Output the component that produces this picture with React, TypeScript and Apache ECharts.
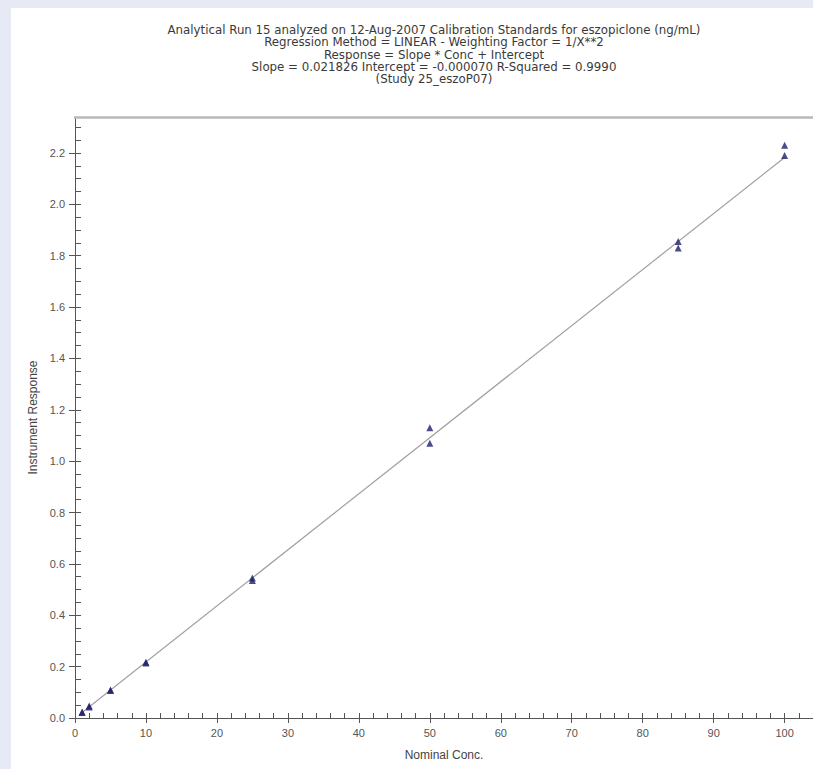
import React, { useEffect, useRef } from "react";
import * as echarts from "echarts";

// ---- data ----
const titleLines = [
  "Analytical Run 15 analyzed on 12-Aug-2007 Calibration Standards for eszopiclone (ng/mL)",
  "Regression Method = LINEAR - Weighting Factor = 1/X**2",
  "Response = Slope * Conc + Intercept",
  "Slope = 0.021826 Intercept = -0.000070 R-Squared = 0.9990",
  "(Study 25_eszoP07)",
];
const concentrations = [1, 1, 2, 2, 5, 5, 10, 10, 25, 25, 50, 50, 85, 85, 100, 100];
const responses = [0.021, 0.023, 0.043, 0.047, 0.107, 0.109, 0.214, 0.217, 0.535, 0.545, 1.07, 1.13, 1.83, 1.855, 2.19, 2.23];
const slope = 0.021826;
const intercept = -0.00007;
const fitRange = [1, 100];
const xMajorTicks = [0, 10, 20, 30, 40, 50, 60, 70, 80, 90, 100];
const yMajorTicks = [0, 0.2, 0.4, 0.6, 0.8, 1.0, 1.2, 1.4, 1.6, 1.8, 2.0, 2.2];
const xMax = 104;
const yMax = 2.34;
const xMinorStep = 2;
const yMinorStep = 0.05;

const FONT = "'Liberation Sans', Arial, sans-serif";
const TITLE_FONT = "'DejaVu Sans', 'Liberation Sans', sans-serif";

function steps(max: number, step: number): number[] {
  const out: number[] = [];
  for (let i = 0; i * step <= max + 1e-9; i++) out.push(+(i * step).toFixed(4));
  return out;
}

export default function App() {
  const ref = useRef<HTMLDivElement>(null);
  useEffect(() => {
    document.body.style.margin = "0";
    if (!ref.current) return;
    const chart = echarts.init(ref.current, undefined, { renderer: "svg" });
    const axisColor = "#555";
    const scatter = concentrations.map((c, i) => [c, responses[i]]);
    const fit = fitRange.map((x) => [x, slope * x + intercept]);
    chart.setOption({
      animation: false,
      backgroundColor: "#ffffff",
      title: {
        text: titleLines.join("\n"),
        left: 423,
        top: 16,
        padding: 0,
        textAlign: "center",
        textStyle: { fontFamily: TITLE_FONT, fontSize: 11.8, fontWeight: "normal", color: "#3a3a3a", lineHeight: 12.3 },
      },
      grid: { left: 64, top: 109, right: 0, bottom: 51 },
      xAxis: [
        {
          type: "value",
          position: "bottom",
          min: 0,
          max: xMax,
          name: "Nominal Conc.",
          nameLocation: "middle",
          nameGap: 31,
          nameTextStyle: { fontFamily: FONT, fontSize: 12, color: "#444" },
          axisLine: { show: true, lineStyle: { color: axisColor, width: 1 } },
          axisTick: { show: true, inside: true, length: 5, lineStyle: { color: axisColor }, customValues: steps(xMax, xMinorStep) },
          axisLabel: { fontFamily: FONT, fontSize: 11, color: "#555", margin: 9, customValues: xMajorTicks },
          splitLine: { show: false },
        },
        {
          type: "value",
          position: "bottom",
          min: 0,
          max: xMax,
          axisLine: { show: false },
          axisTick: { show: true, inside: false, length: 5, lineStyle: { color: axisColor }, customValues: xMajorTicks },
          axisLabel: { show: false },
          splitLine: { show: false },
        },
        {
          type: "value",
          position: "top",
          min: 0,
          max: xMax,
          axisLine: { show: true, lineStyle: { color: "#b9b9b9", width: 2.5 } },
          axisTick: { show: false },
          axisLabel: { show: false },
          splitLine: { show: false },
        },
      ],
      yAxis: [
        {
          type: "value",
          position: "left",
          min: 0,
          max: yMax,
          name: "Instrument Response",
          nameLocation: "middle",
          nameGap: 35,
          nameRotate: 90,
          nameTextStyle: { fontFamily: FONT, fontSize: 12, color: "#444" },
          axisLine: { show: true, lineStyle: { color: axisColor, width: 1 } },
          axisTick: { show: true, inside: true, length: 6, lineStyle: { color: axisColor }, customValues: steps(yMax, yMinorStep) },
          axisLabel: {
            fontFamily: FONT,
            fontSize: 11,
            color: "#555",
            margin: 10,
            customValues: yMajorTicks,
            formatter: (v: number) => v.toFixed(1),
          },
          splitLine: { show: false },
        },
        {
          type: "value",
          position: "left",
          min: 0,
          max: yMax,
          axisLine: { show: false },
          axisTick: { show: true, inside: false, length: 6, lineStyle: { color: axisColor }, customValues: yMajorTicks },
          axisLabel: { show: false },
          splitLine: { show: false },
        },
      ],
      series: [
        {
          type: "line",
          xAxisIndex: 0,
          yAxisIndex: 0,
          data: fit,
          symbol: "none",
          lineStyle: { color: "#a0a0a0", width: 1.2 },
          z: 1,
        },
        {
          type: "scatter",
          xAxisIndex: 0,
          yAxisIndex: 0,
          data: scatter,
          symbol: "triangle",
          symbolSize: 7,
          itemStyle: { color: "#1f1f6b" },
          z: 2,
        },
      ],
    });
    return () => chart.dispose();
  }, []);
  return (
    <div style={{ position: "relative", width: 813, height: 769, background: "#e7eaf4", overflow: "hidden" }}>
      <div ref={ref} style={{ position: "absolute", left: 11, top: 8, width: 802, height: 761, background: "#fff" }} />
    </div>
  );
}
